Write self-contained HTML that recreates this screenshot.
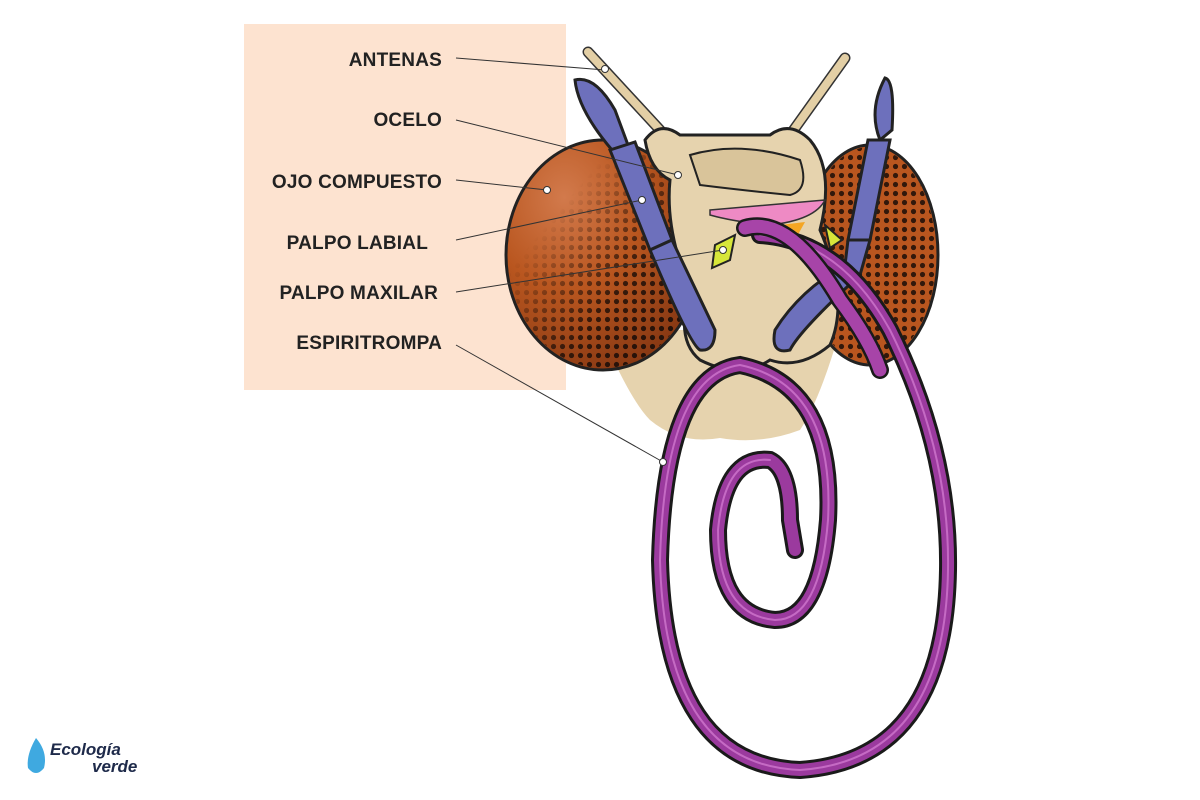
<!DOCTYPE html>
<html><head><meta charset="utf-8"><style>
html,body{margin:0;padding:0;background:#fff;}
svg{display:block}
</style></head><body>
<svg width="1200" height="800" viewBox="0 0 1200 800" xmlns="http://www.w3.org/2000/svg">
<defs>
<pattern id="dots" width="9" height="9" patternUnits="userSpaceOnUse"><circle cx="4.5" cy="4.5" r="2.6" fill="#1a0d08"/></pattern>
<linearGradient id="fadeL" x1="0" y1="0" x2="1" y2="1"><stop offset="0.3" stop-color="#fff" stop-opacity="0"/><stop offset="0.6" stop-color="#fff" stop-opacity="0.8"/><stop offset="1" stop-color="#fff" stop-opacity="1"/></linearGradient>
<radialGradient id="eyeG" cx="0.3" cy="0.25" r="0.8"><stop offset="0" stop-color="#d27a4c"/><stop offset="0.5" stop-color="#b9561f"/><stop offset="1" stop-color="#8a3a14"/></radialGradient>
<mask id="mL"><rect x="500" y="130" width="210" height="250" fill="url(#fadeL)"/></mask>
<mask id="mR"><rect x="800" y="140" width="140" height="240" fill="#fff" opacity="0.85"/></mask>
</defs>
<rect x="244" y="24" width="322" height="366" fill="#fde3d0"/>
<g font-family="Liberation Sans, sans-serif" font-size="19" fill="#222" text-anchor="end" font-weight="bold" letter-spacing="0.2">
<text x="442" y="66">ANTENAS</text>
<text x="442" y="126">OCELO</text>
<text x="442" y="188">OJO COMPUESTO</text>
<text x="428" y="249">PALPO LABIAL</text>
<text x="438" y="299">PALPO MAXILAR</text>
<text x="442" y="349">ESPIRITROMPA</text>
</g>
<!-- head lower -->
<path d="M600,330 Q630,400 650,420 Q680,445 720,438 Q760,445 800,430 Q820,400 840,330 Z" fill="#e6d3ae"/>
<!-- antennae -->
<path d="M588,52 L660,130" stroke="#333" stroke-width="11" stroke-linecap="round"/>
<path d="M588,52 L660,130" stroke="#e3cfa5" stroke-width="8" stroke-linecap="round"/>
<path d="M845,58 L790,135" stroke="#333" stroke-width="11" stroke-linecap="round"/>
<path d="M845,58 L790,135" stroke="#e3cfa5" stroke-width="8" stroke-linecap="round"/>
<!-- eyes -->
<ellipse cx="603" cy="255" rx="97" ry="115" fill="url(#eyeG)" stroke="#222" stroke-width="3"/>
<ellipse cx="603" cy="255" rx="95" ry="113" fill="url(#dots)" mask="url(#mL)"/>
<ellipse cx="870" cy="255" rx="68" ry="110" fill="#b9561f" stroke="#222" stroke-width="3"/>
<ellipse cx="870" cy="255" rx="66" ry="108" fill="url(#dots)" mask="url(#mR)"/>
<!-- head -->
<path d="M645,140 Q660,120 680,135 L770,135 Q790,120 810,140 Q835,170 820,230 Q850,300 830,345 Q800,370 770,360 Q740,380 700,360 Q675,340 690,290 Q665,230 670,180 Q650,170 645,140 Z" fill="#e6d3ae" stroke="#222" stroke-width="3"/>
<path d="M690,155 Q740,140 800,160 Q810,190 790,195 Q740,190 700,185 Z" fill="#d9c49a" stroke="#222" stroke-width="2"/>
<path d="M710,210 Q770,205 825,200 Q815,220 770,225 Q735,222 710,215 Z" fill="#ee8ac4" stroke="#333" stroke-width="1.5"/>
<path d="M715,245 L735,235 L730,260 L712,268 Z" fill="#d7e63a" stroke="#222" stroke-width="2"/>
<path d="M825,225 L842,240 L830,248 Z" fill="#d7e63a" stroke="#222" stroke-width="2"/>
<path d="M780,225 L805,222 L795,240 Z" fill="#f5a623"/>
<!-- palps -->
<g stroke="#222" stroke-width="3" fill="#6d70bc">
<path d="M575,80 Q595,75 615,110 L628,145 L612,150 Q578,110 575,80 Z"/>
<path d="M610,150 L635,142 L672,240 L650,250 Z"/>
<path d="M650,250 L672,240 L715,330 Q715,352 700,350 Q690,345 650,250 Z"/>
<path d="M885,78 Q895,80 892,130 L880,140 Q868,110 885,78 Z"/>
<path d="M868,140 L890,140 L870,240 L848,240 Z"/>
<path d="M848,240 L870,240 L860,275 Q800,330 790,350 Q770,355 775,330 Q800,290 845,265 Z"/>
</g>
<!-- proboscis -->
<g fill="none" stroke-linecap="round">
<path d="M760,235 Q840,240 890,330 Q950,450 948,570 Q945,760 800,770 Q665,765 660,560 Q665,375 740,365 Q835,385 828,520 Q820,620 775,620 Q718,615 718,530 Q725,455 770,460 Q790,470 790,520 L795,550" stroke="#1a1a1a" stroke-width="18"/>
<path d="M760,235 Q840,240 890,330 Q950,450 948,570 Q945,760 800,770 Q665,765 660,560 Q665,375 740,365 Q835,385 828,520 Q820,620 775,620 Q718,615 718,530 Q725,455 770,460 Q790,470 790,520 L795,550" stroke="#9b3a9e" stroke-width="12"/>
<path d="M760,235 Q840,240 890,330 Q950,450 948,570 Q945,760 800,770 Q665,765 660,560 Q665,375 740,365 Q835,385 828,520 Q820,620 775,620 Q718,615 718,530 Q725,455 770,460" stroke="#c56ac4" stroke-width="2"/>
<path d="M745,228 Q790,215 840,300 Q870,340 880,370" stroke="#1a1a1a" stroke-width="18"/>
<path d="M745,228 Q790,215 840,300 Q870,340 880,370" stroke="#a744a8" stroke-width="13"/>
</g>
<!-- leader lines -->
<g stroke="#333" stroke-width="1" fill="#fff">
<line x1="456" y1="58" x2="605" y2="70"/>
<line x1="456" y1="120" x2="678" y2="175"/>
<line x1="456" y1="180" x2="547" y2="190"/>
<line x1="456" y1="240" x2="642" y2="200"/>
<line x1="456" y1="292" x2="723" y2="250"/>
<line x1="456" y1="345" x2="663" y2="462"/>
<circle cx="605" cy="69" r="3.5"/><circle cx="678" cy="175" r="3.5"/><circle cx="547" cy="190" r="3.5"/><circle cx="642" cy="200" r="3.5"/><circle cx="723" cy="250" r="3.5"/><circle cx="663" cy="462" r="3.5"/>
</g>
<!-- logo -->
<path d="M36,738 Q26,755 28,768 Q36,778 44,768 Q48,752 36,738 Z" fill="#3fa9e0"/>
<text x="50" y="755" font-family="Liberation Sans, sans-serif" font-size="17" font-weight="bold" font-style="italic" fill="#1e2a4a">Ecología</text>
<text x="92" y="772" font-family="Liberation Sans, sans-serif" font-size="17" font-weight="bold" font-style="italic" fill="#1e2a4a">verde</text>
</svg>
</body></html>
